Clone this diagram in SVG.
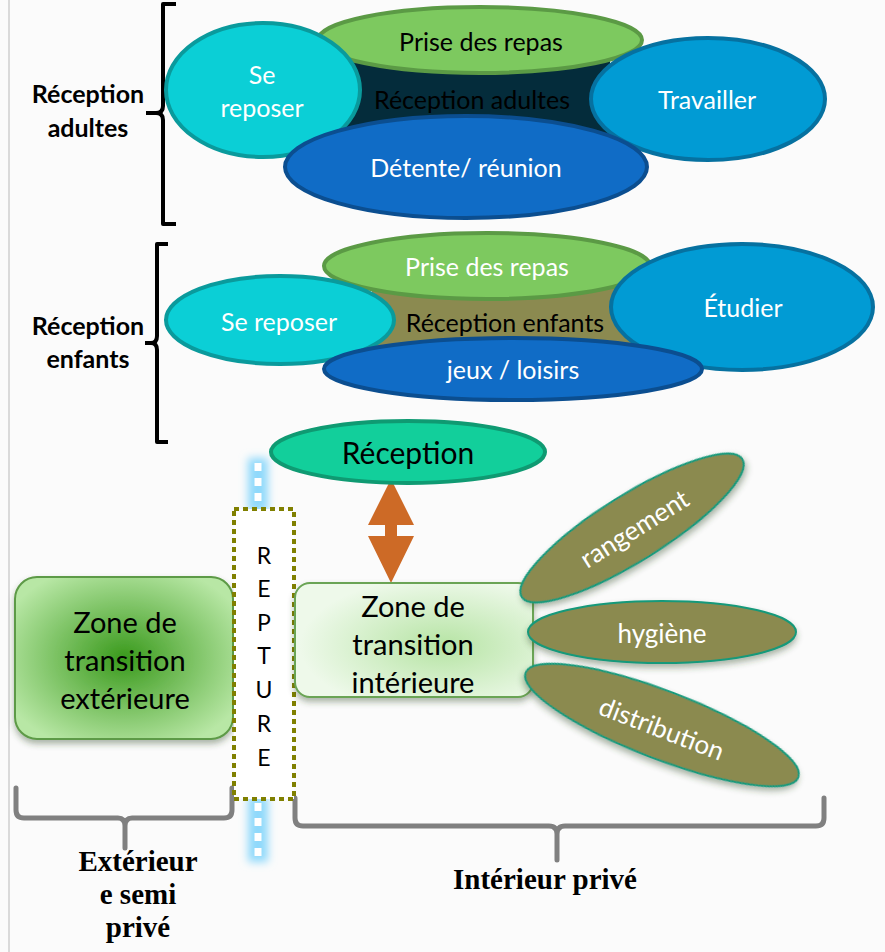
<svg xmlns="http://www.w3.org/2000/svg" width="885" height="952" viewBox="0 0 885 952">
<defs>
<style>
.t{font-family:Lato,"Open Sans","Liberation Sans",sans-serif;text-anchor:middle;dominant-baseline:central}
.w{fill:#ffffff}
.k{fill:#000000}
.lbl{font-family:Lato,"Open Sans","Liberation Sans",sans-serif;font-weight:bold;font-size:25px;text-anchor:middle;dominant-baseline:central;fill:#000}
.ser{font-family:"Liberation Serif","DejaVu Serif",serif;font-weight:bold;font-size:29px;text-anchor:middle;dominant-baseline:central;fill:#000}
.brk{fill:none;stroke:#000;stroke-width:4;stroke-linejoin:round}
.gbr{fill:none;stroke:#808080;stroke-width:5;stroke-linejoin:round;stroke-linecap:round}
.ol{fill:#8b8a50;stroke:#16997a;stroke-width:2}
</style>
<radialGradient id="gext" cx="0.5" cy="0.5" r="0.6">
<stop offset="0" stop-color="#3a9a1c"/>
<stop offset="1" stop-color="#b8e7a5"/>
</radialGradient>
<radialGradient id="gint" cx="0.62" cy="0.55" r="0.6">
<stop offset="0" stop-color="#b6e4a4"/>
<stop offset="1" stop-color="#eef9ea"/>
</radialGradient>
<filter id="sh" x="-20%" y="-20%" width="140%" height="150%">
<feDropShadow dx="0" dy="4" stdDeviation="3" flood-color="#2f4a20" flood-opacity="0.4"/>
</filter>
<filter id="glow" filterUnits="userSpaceOnUse" x="220" y="430" width="80" height="460">
<feGaussianBlur stdDeviation="4"/>
</filter>
</defs>
<rect x="0" y="0" width="885" height="952" fill="#fbfbfb"/>
<line x1="9" y1="0" x2="9" y2="952" stroke="#cfcfcf" stroke-width="1.5"/>

<g id="connectors">
<path class="brk" d="M176,4 H163 V106 Q163,113 156,113 H146 M156,113 Q163,113 163,120 V224 H176"/>
<path class="brk" d="M168,244 H157 V336 Q157,343 151,343 H145 M151,343 Q157,343 157,350 V442 H168"/>
<polygon points="391,479 414,525 397,525 397,536 414,536 391,583 368,536 385,536 385,525 368,525" fill="#cd6a26"/>
<g id="rupture-line">
<rect x="248" y="458" width="20" height="54" fill="#8fd9fb" filter="url(#glow)"/>
<rect x="248" y="796" width="20" height="66" fill="#8fd9fb" filter="url(#glow)"/>
<line x1="258" y1="463" x2="258" y2="508" stroke="#ffffff" stroke-width="7" stroke-dasharray="8,7"/>
<line x1="258" y1="803" x2="258" y2="856" stroke="#ffffff" stroke-width="7" stroke-dasharray="8,7"/>
</g>
<path class="gbr" d="M16,788 V810 Q16,818 24,818 H118 Q125,818 125,826 V848 M125,826 Q125,818 132,818 H224 Q232,818 232,810 V788"/>
<path class="gbr" d="M295,798 V818 Q295,826 303,826 H549 Q557,826 557,834 V860 M557,834 Q557,826 565,826 H816 Q824,826 824,818 V798"/>
</g>

<g id="label-adultes">
<text class="lbl" x="88" y="93">Réception</text>
<text class="lbl" x="88" y="127">adultes</text>
</g>
<g id="label-enfants">
<text class="lbl" x="88" y="325">Réception</text>
<text class="lbl" x="88" y="358">enfants</text>
</g>

<g id="reception-adultes">
<rect x="340" y="45" width="270" height="105" fill="#042c3b"/>
<text class="t k" x="472" y="99" font-size="25">Réception adultes</text>
</g>
<g id="prise-repas-1">
<ellipse cx="480" cy="40" rx="162" ry="33" fill="#7dc95f" stroke="#5b9a45" stroke-width="4"/>
<text class="t k" x="481" y="41" font-size="25">Prise des repas</text>
</g>
<g id="se-reposer-1">
<ellipse cx="263" cy="90" rx="97" ry="67" fill="#0bcfd6" stroke="#0a9a9c" stroke-width="4"/>
<text class="t w" x="262" y="74" font-size="25">Se</text>
<text class="t w" x="262" y="107" font-size="25">reposer</text>
</g>
<g id="travailler">
<ellipse cx="708" cy="99" rx="117" ry="61" fill="#019bd4" stroke="#0671a0" stroke-width="4"/>
<text class="t w" x="707" y="99" font-size="25">Travailler</text>
</g>
<g id="detente">
<ellipse cx="466" cy="167" rx="181" ry="51" fill="#106cc6" stroke="#0b4e90" stroke-width="4"/>
<text class="t w" x="466" y="167" font-size="25">Détente/ réunion</text>
</g>

<g id="reception-enfants">
<rect x="372" y="284" width="270" height="68" fill="#8b8a50"/>
<text class="t k" x="505" y="322" font-size="25">Réception enfants</text>
</g>
<g id="prise-repas-2">
<ellipse cx="487" cy="266" rx="163" ry="33" fill="#7dc95f" stroke="#5b9a45" stroke-width="4"/>
<text class="t w" x="487" y="266" font-size="25">Prise des repas</text>
</g>
<g id="se-reposer-2">
<ellipse cx="280" cy="320" rx="114" ry="44" fill="#0bcfd6" stroke="#0a9a9c" stroke-width="4"/>
<text class="t w" x="279" y="321" font-size="25">Se reposer</text>
</g>
<g id="etudier">
<ellipse cx="742" cy="307" rx="131" ry="63" fill="#019bd4" stroke="#0671a0" stroke-width="4"/>
<text class="t w" x="743" y="307" font-size="25">Étudier</text>
</g>
<g id="jeux">
<ellipse cx="513" cy="369" rx="189" ry="31" fill="#106cc6" stroke="#0b4e90" stroke-width="4"/>
<text class="t w" x="513" y="369" font-size="25">jeux / loisirs</text>
</g>

<g id="reception">
<ellipse cx="408" cy="452" rx="137" ry="31" fill="#12cf9b" stroke="#0f9a72" stroke-width="4"/>
<text class="t k" x="408" y="452" font-size="30">Réception</text>
</g>

<g id="zone-ext">
<rect x="15" y="577" width="218" height="162" rx="22" fill="url(#gext)" stroke="#5d9a46" stroke-width="2" filter="url(#sh)"/>
<text class="t k" x="125" y="621" font-size="29">Zone de</text>
<text class="t k" x="125" y="659" font-size="29">transition</text>
<text class="t k" x="125" y="697" font-size="29">extérieure</text>
</g>

<g id="repture">
<rect x="234" y="509" width="60" height="290" fill="#ffffff" stroke="#808000" stroke-width="4" stroke-dasharray="5,4"/>
<text class="t k" x="264" y="555" font-size="23">R</text>
<text class="t k" x="264" y="588" font-size="23">E</text>
<text class="t k" x="264" y="622" font-size="23">P</text>
<text class="t k" x="264" y="655" font-size="23">T</text>
<text class="t k" x="264" y="689" font-size="23">U</text>
<text class="t k" x="264" y="723" font-size="23">R</text>
<text class="t k" x="264" y="757" font-size="23">E</text>
</g>

<g id="zone-int">
<rect x="295" y="583" width="238" height="114" rx="15" fill="url(#gint)" stroke="#6aa454" stroke-width="2" filter="url(#sh)"/>
<text class="t k" x="413" y="605" font-size="29">Zone de</text>
<text class="t k" x="413" y="643" font-size="29">transition</text>
<text class="t k" x="413" y="681" font-size="29">intérieure</text>
</g>

<g id="rangement">
<ellipse class="ol" cx="0" cy="0" rx="130" ry="33" transform="translate(632,528) rotate(-32)" filter="url(#sh)"/>
<text class="t w" x="0" y="0" font-size="26" transform="translate(634,528) rotate(-32)">rangement</text>
</g>
<g id="hygiene">
<ellipse class="ol" cx="662" cy="632" rx="134" ry="31" filter="url(#sh)"/>
<text class="t w" x="662" y="633" font-size="26">hygiène</text>
</g>
<g id="distribution">
<ellipse class="ol" cx="0" cy="0" rx="146" ry="34" transform="translate(662,725) rotate(21)" filter="url(#sh)"/>
<text class="t w" x="0" y="0" font-size="26" transform="translate(662,728) rotate(21)">distribution</text>
</g>

<g id="label-exterieur">
<text class="ser" x="138" y="861">Extérieur</text>
<text class="ser" x="138" y="894">e semi</text>
<text class="ser" x="138" y="927">privé</text>
</g>
<g id="label-interieur">
<text class="ser" x="545" y="879">Intérieur privé</text>
</g>
</svg>
